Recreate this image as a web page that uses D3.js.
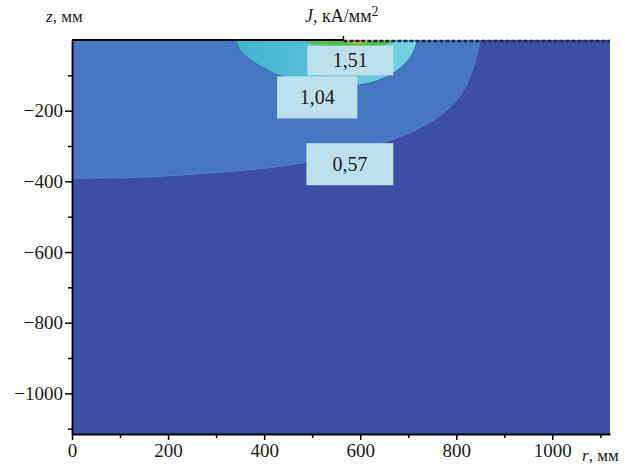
<!DOCTYPE html>
<html>
<head>
<meta charset="utf-8">
<script src="https://cdn.jsdelivr.net/npm/d3@7"></script>
<style>
body { margin: 0; background: #fff; }
text { font-family: "Liberation Serif", "Times New Roman", serif; fill: #1a1a1a; }
</style>
</head>
<body>
<svg id="chart" width="629" height="468"></svg>
<script>
var rMax = 1120, zMin = -1115;
var rTicks = [0, 200, 400, 600, 800, 1000];
var rMinorTicks = [100, 300, 500, 700, 900, 1100];
var zTicks = [-1000, -800, -600, -400, -200];
var zMinorTicks = [-1100, -900, -700, -500, -300, -100];
var levels = ['0,57', '1,04', '1,51'];

// contour lines, [r, z] in mm
var contour057 = [[0, -392], [150, -388], [270, -378], [400, -363], [500, -343], [600, -312], [680, -275], [725, -248], [767, -213], [808, -158], [835, -80], [850, 0]];
var contour104 = [[340, 0], [350, -30], [370, -55], [400, -80], [430, -100], [480, -118], [540, -128], [594, -128], [635, -115], [673, -90], [698, -60], [712, -30], [719, 0]];
var contour198 = [[478, 0], [500, -12], [550, -18], [610, -19], [655, -13], [678, 0]];
var contour245 = [[560, 0], [575, -7], [600, -9], [620, -5], [628, 0]];
var contour292 = [[583, 0], [590, -5], [602, -4], [607, 0]];
// label boxes: r0, r1, z top, z bottom (same order as levels)
var labelBoxes = [[488, 669, -292, -411], [427, 594, -103, -222], [490, 669, -16, -100]];
var electrodeR = 565;

var svg = d3.select('#chart');
var x = d3.scaleLinear().domain([0, rMax]).range([72, 610]);
var y = d3.scaleLinear().domain([zMin, 0]).range([434, 40]);

var defs = svg.append('defs');
defs.append('clipPath').attr('id', 'plot')
    .append('rect')
    .attr('x', x(0)).attr('y', y(0))
    .attr('width', x(rMax) - x(0)).attr('height', y(zMin) - y(0));

var grad = defs.append('linearGradient').attr('id', 'cyan');
grad.append('stop').attr('offset', '0%').attr('stop-color', '#3fb2cc');
grad.append('stop').attr('offset', '100%').attr('stop-color', '#74d3e4');

var plot = svg.append('g').attr('clip-path', 'url(#plot)');

plot.append('rect')
    .attr('x', x(0)).attr('y', y(0))
    .attr('width', x(rMax) - x(0)).attr('height', y(zMin) - y(0))
    .attr('fill', '#3c4fa3');

var line = d3.line()
    .x(function(d) { return x(d[0]); })
    .y(function(d) { return y(d[1]); })
    .curve(d3.curveCatmullRom);

function region(points) {
    return line(points) + 'L' + x(points[0][0]) + ',' + y(0) + 'Z';
}

var regions = [
    {pts: contour057, fill: '#4777c0', stroke: '#5a8ad0'},
    {pts: contour104, fill: 'url(#cyan)', stroke: '#2a5a90'},
    {pts: contour198, fill: '#57bd4c', stroke: 'none'},
    {pts: contour245, fill: '#c9cf3c', stroke: 'none'},
    {pts: contour292, fill: '#e04a2a', stroke: 'none'}
];

plot.selectAll('path.region')
    .data(regions)
    .enter()
    .append('path')
    .attr('class', 'region')
    .attr('d', function(d) { return region(d.pts); })
    .attr('fill', function(d) { return d.fill; })
    .attr('stroke', function(d) { return d.stroke; })
    .attr('stroke-width', 0.8);

// label boxes
var boxes = svg.selectAll('g.box')
    .data(labelBoxes)
    .enter()
    .append('g')
    .attr('class', 'box');

boxes.append('rect')
    .attr('x', function(d) { return x(d[0]); })
    .attr('y', function(d) { return y(d[2]); })
    .attr('width', function(d) { return x(d[1]) - x(d[0]); })
    .attr('height', function(d) { return y(d[3]) - y(d[2]); })
    .attr('fill', '#bde1ec');

boxes.append('text')
    .attr('x', function(d) { return (x(d[0]) + x(d[1])) / 2; })
    .attr('y', function(d) { return (y(d[2]) + y(d[3])) / 2 + 7; })
    .attr('text-anchor', 'middle')
    .style('font-size', '20px')
    .text(function(d, i) { return levels[i]; });

// top surface
svg.append('line')
    .attr('x1', x(electrodeR)).attr('x2', x(rMax))
    .attr('y1', y(0) + 1).attr('y2', y(0) + 1)
    .attr('stroke', '#1c2550').attr('stroke-width', 2.5)
    .attr('stroke-dasharray', '4,2');
svg.append('line')
    .attr('x1', x(0)).attr('x2', x(electrodeR))
    .attr('y1', y(0)).attr('y2', y(0))
    .attr('stroke', '#000').attr('stroke-width', 2);
svg.append('line')
    .attr('x1', x(electrodeR)).attr('x2', x(electrodeR))
    .attr('y1', y(0)).attr('y2', y(0) - 4)
    .attr('stroke', '#000').attr('stroke-width', 1.5);

// axes
var fmt = d3.format('d');

svg.append('g')
    .attr('transform', 'translate(' + x(0) + ',0)')
    .call(d3.axisLeft(y).tickValues(zTicks).tickFormat(fmt).tickSize(7).tickSizeOuter(0).tickPadding(2));
svg.append('g')
    .attr('transform', 'translate(' + x(0) + ',0)')
    .call(d3.axisLeft(y).tickValues(zMinorTicks).tickSize(4).tickFormat(''))
    .select('.domain').remove();

svg.append('g')
    .attr('transform', 'translate(0,' + y(zMin) + ')')
    .call(d3.axisBottom(x).tickValues(rTicks).tickFormat(fmt).tickSize(6).tickSizeOuter(0).tickPadding(4));
svg.append('g')
    .attr('transform', 'translate(0,' + y(zMin) + ')')
    .call(d3.axisBottom(x).tickValues(rMinorTicks).tickSize(4).tickFormat(''))
    .select('.domain').remove();

svg.selectAll('.domain').attr('stroke-width', 1.8);
svg.selectAll('.tick line').attr('stroke-width', 1.5);
svg.selectAll('.tick text')
    .style('font-size', '19px')
    .style('font-family', '"Liberation Serif", serif')
    .attr('fill', '#1a1a1a');

// axis titles
var zTitle = svg.append('text').attr('x', 46).attr('y', 22).style('font-size', '17px');
zTitle.append('tspan').style('font-style', 'italic').text('z');
zTitle.append('tspan').text(', мм');

var jTitle = svg.append('text').attr('x', 305).attr('y', 22).style('font-size', '18px');
jTitle.append('tspan').style('font-style', 'italic').text('J');
jTitle.append('tspan').text(', кА/мм');
jTitle.append('tspan').attr('dy', -6).style('font-size', '14px').text('2');

var rTitle = svg.append('text').attr('x', 582).attr('y', 461).style('font-size', '17px');
rTitle.append('tspan').style('font-style', 'italic').text('r');
rTitle.append('tspan').text(', мм');
</script>
</body>
</html>
